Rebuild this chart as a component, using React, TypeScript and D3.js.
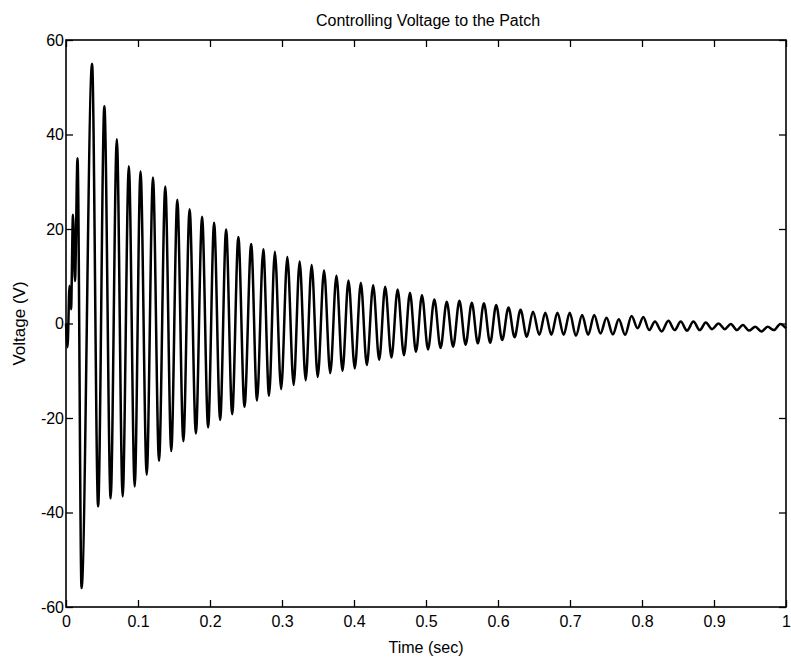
import { useEffect, useRef } from "react"
import * as d3 from "d3"

// turning points of the trace (time in sec, voltage in V)
const times = [
  0.0, 0.0021, 0.0049, 0.007, 0.0097, 0.0125, 0.016, 0.0216, 0.0362, 0.0446,
  0.0533, 0.062, 0.0706, 0.0787, 0.0873, 0.0954, 0.1035, 0.1121, 0.1208, 0.1292,
  0.1379, 0.1462, 0.1546, 0.163, 0.1717, 0.1804, 0.189, 0.1974, 0.2057, 0.2141,
  0.2224, 0.2308, 0.2394, 0.2479, 0.2572, 0.2653, 0.274, 0.282, 0.2901, 0.2988,
  0.3074, 0.3162, 0.3245, 0.3329, 0.3412, 0.3496, 0.3584, 0.367, 0.3756, 0.384,
  0.3923, 0.4011, 0.4095, 0.4178, 0.4266, 0.435, 0.4433, 0.452, 0.4606, 0.4694,
  0.4777, 0.4861, 0.4944, 0.5028, 0.5116, 0.5202, 0.5288, 0.5376, 0.5464, 0.555,
  0.5636, 0.572, 0.5804, 0.5891, 0.5975, 0.6058, 0.6146, 0.623, 0.6313, 0.64,
  0.6486, 0.6574, 0.6657, 0.6741, 0.6825, 0.6912, 0.6996, 0.7082, 0.7169, 0.7252,
  0.7336, 0.7423, 0.7507, 0.7595, 0.7678, 0.7765, 0.7855, 0.7939, 0.8018, 0.8099,
  0.818, 0.8273, 0.8366, 0.8454, 0.8538, 0.8625, 0.8714, 0.8802, 0.8886, 0.8974,
  0.9063, 0.915, 0.9234, 0.9318, 0.9401, 0.9485, 0.9573, 0.9659, 0.9745, 0.9833,
  0.9921, 1.0,
]
const volts = [
  0, -5, 8, 3, 23, 9, 35, -56, 55, -38.7,
  46, -37, 39, -36.6, 33.3, -34.5, 32.2, -32, 30.9, -29.1,
  29, -27, 26.2, -24.9, 24.2, -23.3, 22.6, -22, 21.3, -20.4,
  19.9, -19.2, 18.3, -17.6, 16.8, -16.3, 15.7, -15.3, 15.2, -13.9,
  14.1, -13, 13.1, -12, 12.4, -11.3, 11.2, -10.5, 10.1, -10,
  9.1, -9.5, 8.6, -8.8, 8.1, -7.7, 7.8, -7.2, 7.2, -6.7,
  6.5, -6, 6, -5.5, 5.1, -5.2, 4.6, -4.9, 4.8, -4.5,
  4.4, -4.2, 4.3, -4.1, 3.9, -3.5, 3.4, -2.9, 2.9, -2.8,
  2.5, -2.4, 2.3, -2.4, 2.3, -2.4, 2.3, -2.6, 1.8, -2.4,
  1.8, -2.1, 1.2, -2.3, 0.9, -2.4, 1.6, -1, 1.4, -1.4,
  0.4, -1.7, 0.6, -1.4, 0.4, -1.5, 0.4, -1.4, 0.2, -1.2,
  0, -1.2, -0.1, -1.4, -0.3, -1.5, -0.7, -1.7, -0.7, -1.4,
  -0.1, -1,
]

const xTicks = [0, 0.1, 0.2, 0.3, 0.4, 0.5, 0.6, 0.7, 0.8, 0.9, 1]
const xTickLabels = ["0", "0.1", "0.2", "0.3", "0.4", "0.5", "0.6", "0.7", "0.8", "0.9", "1"]
const yTicks = [-60, -40, -20, 0, 20, 40, 60]
const yTickLabels = ["-60", "-40", "-20", "0", "20", "40", "60"]

const W = 791
const H = 661
const FONT = "'Liberation Sans', Arial, Helvetica, sans-serif"

export default function App() {
  const svgRef = useRef<SVGSVGElement>(null)

  useEffect(() => {
    if (!svgRef.current) return
    const svg = d3.select(svgRef.current)
    svg.selectAll("*").remove()

    const margin = { top: 40, right: 5, bottom: 54, left: 66 }
    const innerW = W - margin.left - margin.right
    const innerH = H - margin.top - margin.bottom

    const x = d3.scaleLinear().domain([0, 1]).range([0, innerW])
    const y = d3.scaleLinear().domain([-60, 60]).range([innerH, 0])

    const chart = svg.append("g").attr("transform", `translate(${margin.left}, ${margin.top})`)

    // trace
    const pts = times.map((t, i) => [t, volts[i]] as [number, number])
    const line = d3
      .line<[number, number]>()
      .x((d) => x(d[0]))
      .y((d) => y(d[1]))
      .curve(d3.curveMonotoneX)

    chart
      .append("path")
      .datum(pts)
      .attr("d", line)
      .attr("fill", "none")
      .attr("stroke", "#000")
      .attr("stroke-width", 2.5)
      .attr("stroke-linejoin", "round")

    // axes, matlab style: ticks pointing in on all four sides
    const fmtX = (d: any) => xTickLabels[xTicks.indexOf(d)]
    const fmtY = (d: any) => yTickLabels[yTicks.indexOf(d)]

    const styleAxis = (g: any) => {
      g.select(".domain").remove()
      g.selectAll("line").attr("stroke", "#000").attr("stroke-width", 1.3)
      g.selectAll("text").attr("fill", "#000").attr("font-family", FONT).attr("font-size", 16)
    }

    chart
      .append("g")
      .attr("transform", `translate(0, ${innerH})`)
      .call(d3.axisBottom(x).tickValues(xTicks).tickFormat(fmtX).tickSizeInner(-7).tickSizeOuter(0).tickPadding(9))
      .call(styleAxis)

    chart
      .append("g")
      .call(d3.axisTop(x).tickValues(xTicks).tickFormat(() => "").tickSizeInner(-7).tickSizeOuter(0))
      .call(styleAxis)

    chart
      .append("g")
      .call(d3.axisLeft(y).tickValues(yTicks).tickFormat(fmtY).tickSizeInner(-7).tickSizeOuter(0).tickPadding(2))
      .call(styleAxis)

    chart
      .append("g")
      .attr("transform", `translate(${innerW}, 0)`)
      .call(d3.axisRight(y).tickValues(yTicks).tickFormat(() => "").tickSizeInner(-7).tickSizeOuter(0))
      .call(styleAxis)

    // frame
    chart
      .append("rect")
      .attr("width", innerW)
      .attr("height", innerH)
      .attr("fill", "none")
      .attr("stroke", "#000")
      .attr("stroke-width", 1.6)

    // labels
    svg
      .append("text")
      .attr("x", margin.left + innerW / 2 + 2)
      .attr("y", 26)
      .attr("text-anchor", "middle")
      .attr("font-family", FONT)
      .attr("font-size", 16)
      .attr("fill", "#000")
      .text("Controlling Voltage to the Patch")

    svg
      .append("text")
      .attr("x", margin.left + innerW / 2)
      .attr("y", 653)
      .attr("text-anchor", "middle")
      .attr("font-family", FONT)
      .attr("font-size", 16)
      .attr("fill", "#000")
      .text("Time (sec)")

    svg
      .append("text")
      .attr("transform", `translate(25, ${margin.top + y(0)}) rotate(-90)`)
      .attr("text-anchor", "middle")
      .attr("font-family", FONT)
      .attr("font-size", 17)
      .attr("fill", "#000")
      .text("Voltage (V)")
  }, [])

  return (
    <svg
      ref={svgRef}
      width={W}
      height={H}
      style={{ position: "absolute", left: 0, top: 0, background: "#fff" }}
    />
  )
}
